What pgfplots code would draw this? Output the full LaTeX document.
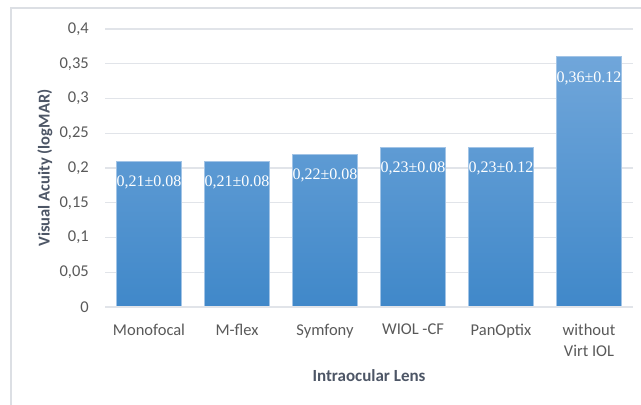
\documentclass[border=0pt]{standalone}
\usepackage{pgfplots}
\pgfplotsset{compat=1.18}
\usepackage{fontspec}
\setmainfont{Carlito}
\newfontfamily\serifnum{Liberation Serif}
\definecolor{barTop}{HTML}{70A6DA}
\definecolor{barBot}{HTML}{4088C9}
\definecolor{barEdge}{HTML}{A2C4E6}
\definecolor{gridc}{HTML}{E1E4E9}
\definecolor{tickc}{HTML}{595959}
\definecolor{labc}{HTML}{4D5666}
\definecolor{framec}{HTML}{DCDFE4}
\begin{document}
\begin{tikzpicture}
\useasboundingbox (0,0) rectangle (641bp,405bp);
\clip (0,0) rectangle (641bp,405bp);
\draw[framec, line width=1.5bp] (11bp,-20bp) -- (11bp,397bp) -- (700bp,397bp);
\begin{axis}[
  at={(105bp,98bp)}, anchor=south west,
  scale only axis, width=528bp, height=278bp,
  xmin=-0.5, xmax=5.5, ymin=0, ymax=0.4,
  axis lines=left,
  x axis line style={draw=none, -}, y axis line style={draw=none, -},
  ytick={0,0.05,0.1,0.15,0.2,0.25,0.3,0.35,0.4},
  yticklabels={0,{0,05},{0,1},{0,15},{0,2},{0,25},{0,3},{0,35},{0,4}},
  xtick={0,...,5},
  xticklabels={Monofocal,M-flex,Symfony,WIOL -CF,PanOptix,{without\\Virt IOL}},
  major tick length=0pt,
  ymajorgrids, grid style={gridc, line width=1.3bp},
  yticklabel style={font=\fontsize{16.5bp}{19bp}\selectfont, text=tickc, inner sep=0pt, anchor=east, xshift=-16bp},
  xticklabel style={font=\fontsize{16.5bp}{20.5bp}\selectfont, text=tickc, inner sep=0pt, align=center, anchor=north, yshift=-17bp},
  xlabel={Intraocular Lens},
  ylabel={Visual Acuity (logMAR)},
  every axis x label/.style={at={(axis description cs:0.5,-0.245)}, anchor=center, font=\fontsize{17bp}{19bp}\selectfont\bfseries, text=labc},
  every axis y label/.style={at={(axis description cs:-0.1136,0.5)}, anchor=center, rotate=90, font=\fontsize{16.5bp}{19bp}\selectfont\bfseries, text=labc},
  clip=false,
]
\addplot[ybar, bar width=0.74, draw=barEdge, line width=0.8bp, top color=barTop, bottom color=barBot,
  nodes near coords, point meta=explicit symbolic,
  every node near coord/.style={font=\serifnum\fontsize{16bp}{19bp}\selectfont, text=white, anchor=base, yshift=-25.4bp, inner sep=0pt}]
  table[x=x, y=y, meta=label] {
x y label
0 0.21 {0,21±0.08}
1 0.21 {0,21±0.08}
2 0.22 {0,22±0.08}
3 0.23 {0,23±0.08}
4 0.23 {0,23±0.12}
5 0.36 {0,36±0.12}
};
\draw[gridc, line width=2bp] (axis cs:-0.5,0) -- (axis cs:5.5,0);
\end{axis}
\end{tikzpicture}
\end{document}
